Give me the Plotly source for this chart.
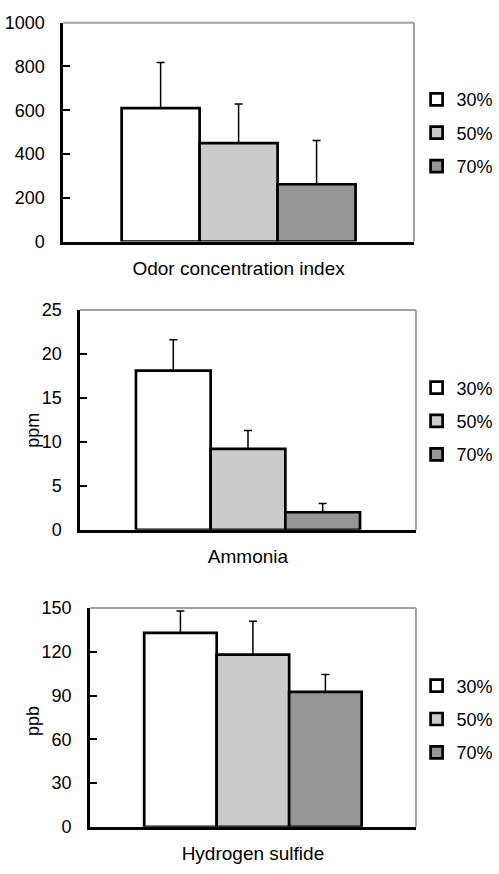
import plotly.graph_objects as go

categories = ["Odor concentration index", "Ammonia", "Hydrogen sulfide"]
series_names = ["30%", "50%", "70%"]
means_30 = [610, 18.1, 133]
means_50 = [450, 9.2, 118]
means_70 = [262, 2.0, 92.5]
err_30 = [208, 3.5, 15]
err_50 = [178, 2.1, 23]
err_70 = [200, 1.0, 12]
y_titles = ["", "ppm", "ppb"]
y_ranges = [[0, 1000], [0, 25], [0, 150]]
y_dticks = [200, 5, 30]

colors = ["#ffffff", "#cbcbcb", "#969696"]
means = [means_30, means_50, means_70]
errs = [err_30, err_50, err_70]

W, H = 499, 874
# panel pixel boxes: (left, right, top, bottom)
boxes = [(64, 419, 13, 237), (81, 421, 307, 532), (91, 421, 612, 836)]
legend_centers = [126, 421, 726]
ytitle_pos = [None, (34, 430), (34, 728)]

FONT = "Liberation Sans, Arial, sans-serif"

fig = go.Figure()
layout = dict(
    width=W, height=H, margin=dict(l=0, r=0, t=0, b=0),
    paper_bgcolor="white", plot_bgcolor="white",
    barmode="group", bargap=0.333, bargroupgap=0,
    font=dict(family=FONT, size=18, color="black"),
    showlegend=True,
)
shapes = []
annotations = []
for p in range(3):
    sfx = "" if p == 0 else str(p + 1)
    leg = "legend" if p == 0 else f"legend{p + 1}"
    for s in range(3):
        fig.add_trace(go.Bar(
            x=[categories[p]], y=[means[s][p]], name=series_names[s],
            xaxis="x" + sfx, yaxis="y" + sfx, legend=leg,
            legendgroup=f"g{p}{s}",
            marker=dict(color=colors[s], line=dict(color="black", width=2.7)),
            error_y=dict(type="data", symmetric=False, array=[errs[s][p]],
                         arrayminus=[0], color="black", thickness=1.5, width=4),
        ))
    l, r, t, b = boxes[p]
    layout["xaxis" + sfx] = dict(
        domain=[l / W, r / W], anchor="y" + sfx, type="category",
        showline=True, linecolor="black", linewidth=2.5,
        ticks="inside", tickson="boundaries", ticklen=7, tickwidth=2, tickcolor="black",
        showgrid=False, zeroline=False, ticklabelstandoff=8,
        tickfont=dict(size=19),
    )
    layout["yaxis" + sfx] = dict(
        domain=[1 - b / H, 1 - t / H], anchor="x" + sfx,
        range=y_ranges[p], dtick=y_dticks[p], tick0=0,
        showline=True, linecolor="black", linewidth=2.5,
        ticks="inside", ticklen=7, tickwidth=2, tickcolor="black",
        showgrid=False, zeroline=False, ticklabelstandoff=12,
        tickfont=dict(size=18),
    )
    layout[leg] = dict(
        x=0.845, xanchor="left", y=1 - legend_centers[p] / H, yanchor="middle",
        font=dict(size=18), tracegroupgap=7, bgcolor="rgba(0,0,0,0)",
    )
    xd = "x" + sfx + " domain"
    yd = "y" + sfx + " domain"
    shapes.append(dict(type="line", xref=xd, yref=yd, x0=0, x1=1, y0=1, y1=1,
                       line=dict(color="#a0a0a0", width=2)))
    shapes.append(dict(type="line", xref=xd, yref=yd, x0=1, x1=1, y0=0, y1=1,
                       line=dict(color="#a0a0a0", width=2)))
    if y_titles[p]:
        px, py = ytitle_pos[p]
        annotations.append(dict(text=y_titles[p], x=px / W, y=1 - py / H,
                                xref="paper", yref="paper", showarrow=False,
                                xanchor="center", yanchor="middle",
                                textangle=-90, font=dict(size=18)))

layout["shapes"] = shapes
layout["annotations"] = annotations
fig.update_layout(**layout)
fig.write_html(
    "out.html",
    config={"displayModeBar": False},
    post_script="document.body.style.margin='0';document.body.style.overflow='hidden';",
)
